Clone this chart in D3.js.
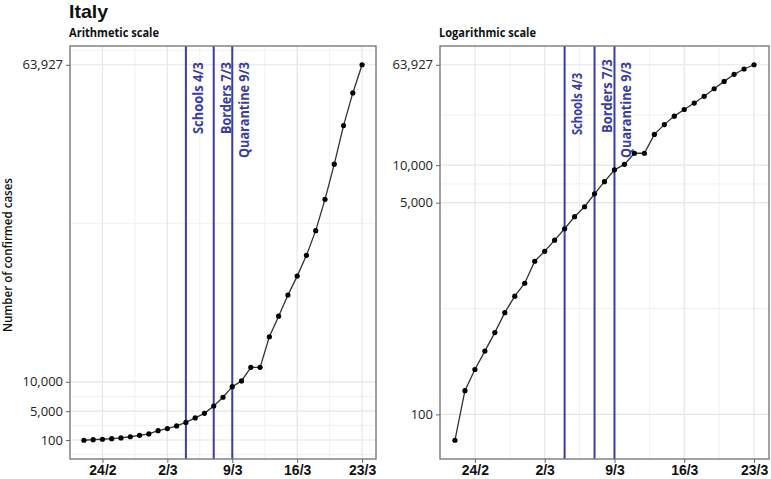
<!DOCTYPE html>
<html><head><meta charset="utf-8">
<script src="https://cdn.jsdelivr.net/npm/d3@7"></script>
<style>body{margin:0;background:#fff}svg{display:block}</style>
</head><body>
<svg id="c" width="771" height="479"></svg>
<script>
// ---- data ----
const dates = ["2020-02-22","2020-02-23","2020-02-24","2020-02-25","2020-02-26","2020-02-27","2020-02-28","2020-02-29",
  "2020-03-01","2020-03-02","2020-03-03","2020-03-04","2020-03-05","2020-03-06","2020-03-07","2020-03-08","2020-03-09",
  "2020-03-10","2020-03-11","2020-03-12","2020-03-13","2020-03-14","2020-03-15","2020-03-16","2020-03-17","2020-03-18",
  "2020-03-19","2020-03-20","2020-03-21","2020-03-22","2020-03-23"];
const cases = [62,155,229,322,453,655,888,1128,1694,2036,2502,3089,3858,4636,5883,7375,9172,10149,12462,12462,
  17660,21157,24747,27980,31506,35713,41035,47021,53578,59138,63927];
const xTickDates = ["2020-02-24","2020-03-02","2020-03-09","2020-03-16","2020-03-23"];
const xTickLabels = ["24/2","2/3","9/3","16/3","23/3"];
const yTicks = [100,5000,10000,63927];
const eventDates = ["2020-03-04","2020-03-07","2020-03-09"];
const eventLabels = ["Schools 4/3","Borders 7/3","Quarantine 9/3"];
const title = "Italy";
const panelTitles = ["Arithmetic scale","Logarithmic scale"];
const yTitle = "Number of confirmed cases";

// ---- drawing ----
const svg = d3.select("#c");
const P = d => new Date(d + "T00:00:00Z");
const data = dates.map((d,i)=>({date:P(d), v:cases[i]}));
const DAY = 864e5;
const xDom = [new Date(P(dates[0]).getTime()-1.5*DAY), new Date(P(dates[dates.length-1]).getTime()+1.5*DAY)];
const fmt = d3.format(",");
const FONT = "'Open Sans', 'Noto Sans', sans-serif";
const LIB = "'Liberation Sans', Arial, sans-serif";
const BLUE = "#3a3da3";

svg.append("text").attr("x",69).attr("y",17.5).text(title)
  .attr("font-family",LIB).attr("font-weight",700).attr("font-size",19).attr("fill","#111")
  .attr("textLength",39).attr("lengthAdjust","spacingAndGlyphs");

svg.append("text").attr("transform","translate(12,255) rotate(-90)").attr("text-anchor","middle")
  .text(yTitle).attr("font-family",FONT).attr("font-weight",600).attr("font-size",12).attr("fill","#111")
  .attr("textLength",154).attr("lengthAdjust","spacingAndGlyphs");

function panel(cfg){
  const g = svg.append("g");
  const x = d3.scaleUtc().domain(xDom).range([cfg.x0,cfg.x1]);
  const y = cfg.y;
  const top=46, bot=459;
  // minor grid
  const majX = xTickDates.map(P);
  const stepX = majX[1]-majX[0];
  const minX = [];
  const bx = [majX[0].getTime()-stepX, ...majX.map(d=>d.getTime()), majX[majX.length-1].getTime()+stepX];
  for(let i=0;i<bx.length-1;i++) minX.push((bx[i]+bx[i+1])/2);
  g.selectAll(".mnx").data(minX.filter(t=>t>xDom[0]&&t<xDom[1])).join("line")
    .attr("x1",t=>x(new Date(t))).attr("x2",t=>x(new Date(t))).attr("y1",top).attr("y2",bot)
    .attr("stroke","#f1f1f1").attr("stroke-width",1);
  g.selectAll(".mny").data(cfg.minorY).join("line")
    .attr("x1",cfg.x0).attr("x2",cfg.x1).attr("y1",d=>y(d)).attr("y2",d=>y(d))
    .attr("stroke","#f1f1f1").attr("stroke-width",1);
  // major grid
  g.selectAll(".mjx").data(majX).join("line")
    .attr("x1",d=>x(d)).attr("x2",d=>x(d)).attr("y1",top).attr("y2",bot)
    .attr("stroke","#e6e6e6").attr("stroke-width",1.2);
  g.selectAll(".mjy").data(yTicks).join("line")
    .attr("x1",cfg.x0).attr("x2",cfg.x1).attr("y1",d=>y(d)).attr("y2",d=>y(d))
    .attr("stroke","#e6e6e6").attr("stroke-width",1.2);
  // event lines
  eventDates.forEach((d,i)=>{
    const ex = x(P(d));
    g.append("line").attr("x1",ex).attr("x2",ex).attr("y1",top).attr("y2",bot)
      .attr("stroke",BLUE).attr("stroke-width",2);
    g.append("text").attr("transform",`translate(${ex+17},${cfg.labelTop[i]}) rotate(-90)`)
      .attr("text-anchor","end").text(eventLabels[i])
      .attr("font-family",FONT).attr("font-weight",700).attr("font-size",15).attr("fill",BLUE)
      .attr("textLength",cfg.labelLen[i]).attr("lengthAdjust","spacingAndGlyphs");
  });
  // line + points
  g.append("path").datum(data).attr("fill","none").attr("stroke","#333").attr("stroke-width",1.3)
    .attr("d",d3.line().x(d=>x(d.date)).y(d=>y(d.v)));
  g.selectAll(".pt").data(data).join("circle").attr("cx",d=>x(d.date)).attr("cy",d=>y(d.v)).attr("r",2.6).attr("fill","#000");
  // border
  g.append("rect").attr("x",cfg.x0).attr("y",top).attr("width",cfg.x1-cfg.x0).attr("height",bot-top)
    .attr("fill","none").attr("stroke","#7a7a7a").attr("stroke-width",1.4);
  // axes
  const ax = g.append("g").attr("transform",`translate(0,${bot})`)
    .call(d3.axisBottom(x).tickValues(majX).tickFormat((d,i)=>xTickLabels[i]).tickSize(4).tickPadding(2.5));
  ax.select(".domain").remove();
  ax.selectAll("line").attr("stroke","#666");
  ax.selectAll("text").attr("font-family",LIB).attr("font-weight",700).attr("font-size",14).attr("fill","#111")
    .attr("dy","0.71em");
  const ay = g.append("g").attr("transform",`translate(${cfg.x0},0)`)
    .call(d3.axisLeft(y).tickValues(yTicks).tickFormat(fmt).tickSize(4).tickPadding(3));
  ay.select(".domain").remove();
  ay.selectAll("line").attr("stroke","#666");
  ay.selectAll("text").attr("font-family",FONT).attr("font-size",13).attr("fill","#222");
  // panel title
  g.append("text").attr("x",cfg.x0-1).attr("y",37).text(cfg.title)
    .attr("font-family",FONT).attr("font-weight",700).attr("font-size",12).attr("fill","#111")
    .attr("textLength",cfg.titleLen).attr("lengthAdjust","spacingAndGlyphs");
}

// linear panel
const ext = d3.extent(cases);
const pad = (ext[1]-ext[0])*0.05;
const yLin = d3.scaleLinear().domain([ext[0]-pad, ext[1]+pad]).range([459,46]);
const lb = [yTicks[0]-(yTicks[1]-yTicks[0]), ...yTicks, yTicks[yTicks.length-1]+(yTicks[1]-yTicks[0])];
const minLin = [];
for(let i=0;i<lb.length-1;i++) minLin.push((lb[i]+lb[i+1])/2);
panel({x0:70,x1:376,y:yLin,minorY:minLin.filter(v=>v>yLin.domain()[0]&&v<yLin.domain()[1]),
  labelTop:[62,62,62],labelLen:[72,72,96],title:panelTitles[0],titleLen:90});

// log panel
const lext = ext.map(Math.log10);
const lpad = (lext[1]-lext[0])*0.05;
const yLog = d3.scaleLog().domain([Math.pow(10,lext[0]-lpad), Math.pow(10,lext[1]+lpad)]).range([459,46]);
const lt = yTicks.map(Math.log10);
const lbb = [lt[0]-(lt[1]-lt[0]), ...lt, lt[lt.length-1]+(lt[1]-lt[0])];
const minLog = [];
for(let i=0;i<lbb.length-1;i++) minLog.push(Math.pow(10,(lbb[i]+lbb[i+1])/2));
panel({x0:440,x1:769,y:yLog,minorY:minLog.filter(v=>v>yLog.domain()[0]&&v<yLog.domain()[1]),
  labelTop:[73,59,62],labelLen:[62,74,96],title:panelTitles[1],titleLen:97});
</script>
</body></html>
